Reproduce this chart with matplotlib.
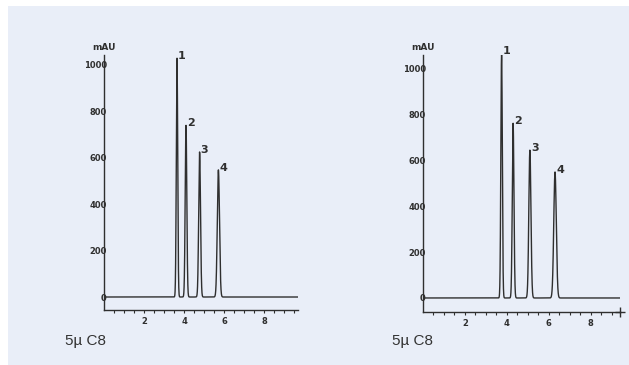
import numpy as np
import matplotlib.pyplot as plt

# peak data (retention time in min, height in mAU)
peak_labels = ["1", "2", "3", "4"]
left_times = [3.65, 4.1, 4.78, 5.72]
left_heights = [1030, 740, 625, 548]
left_widths = [0.035, 0.04, 0.045, 0.055]
right_times = [3.75, 4.3, 5.1, 6.3]
right_heights = [1065, 760, 643, 548]
right_widths = [0.035, 0.04, 0.05, 0.06]
y_ticks = [0, 200, 400, 600, 800, 1000]
x_ticks = [2, 4, 6, 8]
caption = "5\u00b5 C8"

bg = "#e9eef8"
ink = "#2f2f2f"

fig = plt.figure(figsize=(6.29, 3.65), dpi=100)
fig.patch.set_facecolor("white")
# light blue panel
fig.patches.append(plt.Rectangle((8 / 629, 0), 1, 1 - 6 / 365, transform=fig.transFigure,
                                 facecolor=bg, edgecolor="none", zorder=-1))


def chromatogram(ax, times, heights, widths, xmax, ymin, ymax):
    t = np.linspace(0, xmax, 3000)
    signal = np.zeros_like(t)
    for rt, h, w in zip(times, heights, widths):
        signal += h * np.exp(-0.5 * ((t - rt) / w) ** 2)
    ax.plot(t, signal, color=ink, lw=1.0)
    for lab, rt, h in zip(peak_labels, times, heights):
        ax.text(rt + 0.05, h + 10, lab, fontsize=8, fontweight="bold", color=ink,
                ha="left", va="center")
    ax.set_xlim(0, xmax)
    ax.set_ylim(ymin, ymax)
    ax.set_facecolor("none")
    for s in ["top", "right"]:
        ax.spines[s].set_visible(False)
    for s in ["left", "bottom"]:
        ax.spines[s].set_color(ink)
        ax.spines[s].set_linewidth(1.0)
    ax.set_yticks(y_ticks)
    ax.set_yticklabels([str(v) for v in y_ticks], fontsize=6, fontweight="bold", color=ink)
    ax.tick_params(axis="y", length=0, pad=-2)
    ax.set_xticks(x_ticks)
    ax.set_xticklabels([str(v) for v in x_ticks], fontsize=6, fontweight="bold", color=ink)
    ax.set_xticks(np.arange(0.5, xmax, 0.5), minor=True)
    ax.tick_params(axis="x", which="both", length=2, width=0.8, color=ink, pad=3)
    ax.text(0, ymax + 12, "mAU", fontsize=6.5, fontweight="bold", color=ink,
            ha="center", va="bottom")


ax1 = fig.add_axes([104 / 629, (365 - 310) / 365, 194 / 629, 255 / 365])
chromatogram(ax1, left_times, left_heights, left_widths, 9.7, -56, 1043)

ax2 = fig.add_axes([423 / 629, (365 - 312) / 365, 197 / 629, 257 / 365])
chromatogram(ax2, right_times, right_heights, right_widths, 9.4, -61, 1057)
ax2.plot([9.4], [-61], marker="+", color=ink, markersize=7, clip_on=False)

fig.text(65 / 629, (365 - 341) / 365, caption, fontsize=11, color="#333333",
         family="Liberation Sans", va="center")
fig.text(392 / 629, (365 - 341) / 365, caption, fontsize=11, color="#333333",
         family="Liberation Sans", va="center")

fig.savefig("out.png", dpi=100, facecolor=fig.get_facecolor())
